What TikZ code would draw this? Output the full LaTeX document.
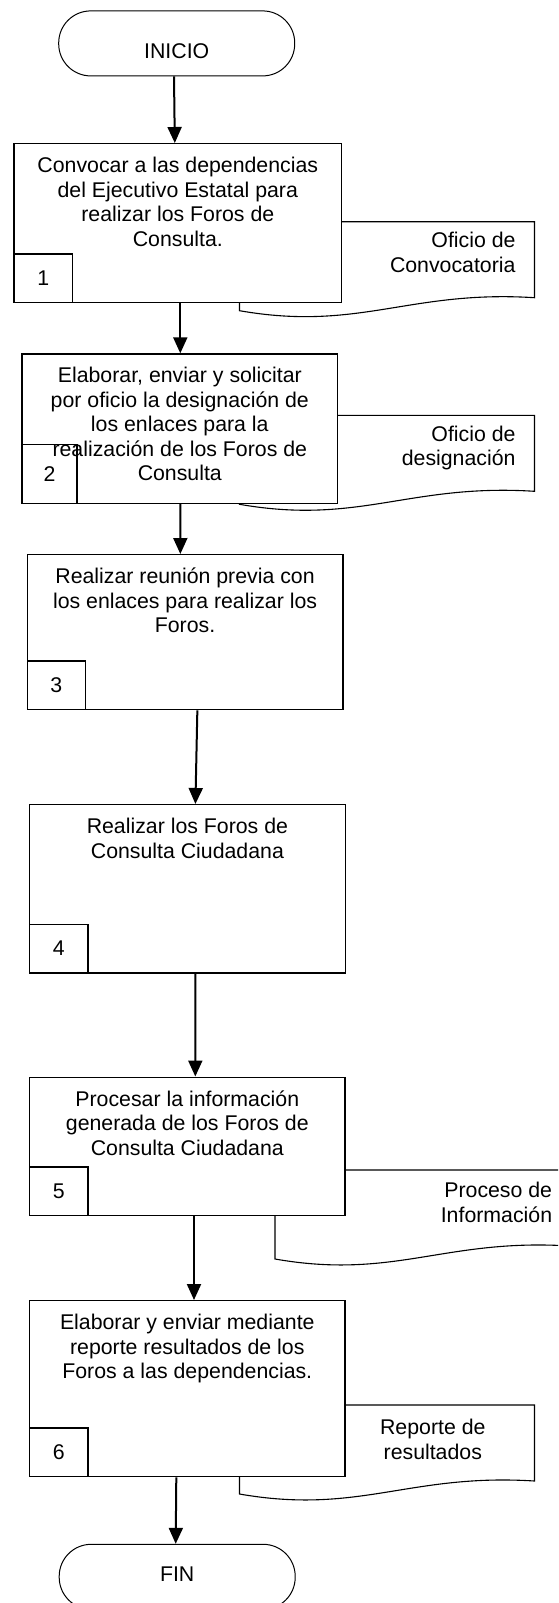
\documentclass[tikz,border=0pt]{standalone}
\usepackage{fontspec}
\setmainfont{Liberation Sans}
\usetikzlibrary{arrows.meta}

\begin{document}
\begin{tikzpicture}[x=1pt, y=-1pt,
    every node/.style={font=\fontsize{21.3}{24.5}\selectfont},
    paso/.style={draw, line width=1.3pt, fill=white, inner sep=0pt, anchor=north west},
    num/.style={draw, line width=1.3pt, inner sep=0pt, minimum width=58.3pt, minimum height=48.7pt, anchor=south west},
    term/.style={draw, line width=1pt, rounded corners=32pt, minimum width=236pt, minimum height=65pt, inner sep=0pt, text depth=0pt},
    texto/.style={inner sep=0pt, align=center, anchor=north, execute at begin node={\rule{0pt}{17pt}}},
    doc/.style={draw, line width=1.1pt, fill=white},
    flecha/.style={line width=2pt, -{Triangle[length=16pt, width=14pt]}}]

    \clip (0,0) rectangle (558,1603);

    % Documentos (quedan detras de las actividades)
    \foreach \dx/\dy in {239.5/221.7, 239.5/415.3, 275/1170, 239.5/1405} {
        \draw[doc] (\dx,\dy) -- ({\dx+295},\dy) -- ({\dx+295},{\dy+76})
            .. controls ({\dx+170},{\dy+68}) and ({\dx+120},{\dy+110}) .. (\dx,{\dy+89}) -- cycle;
    }

    % Inicio y fin
    \node[term, text height=30pt] (ini) at (176.7,43.4) {INICIO};
    \node[term, text height=9.8pt] (fin) at (177.2,1576.8) {FIN};

    % Actividades
    \node[paso, minimum width=327.7pt, minimum height=158.5pt] (b1) at (13.3,143) {};
    \node[paso, minimum width=315.7pt, minimum height=149.2pt] (b2) at (21.3,353.3) {};
    \node[paso, minimum width=315.8pt, minimum height=155pt] (b3) at (26.5,554) {};
    \node[paso, minimum width=315.5pt, minimum height=168.3pt] (b4) at (29,804) {};
    \node[paso, minimum width=315.3pt, minimum height=138.5pt] (b5) at (29,1076.5) {};
    \node[paso, minimum width=315.3pt, minimum height=176pt] (b6) at (29,1300) {};

    % Numero de cada actividad
    \node[num, minimum width=58.5pt, minimum height=48.2pt] (n1) at (b1.south west) {1};
    \node[num, minimum width=55pt, minimum height=59pt] (n2) at (b2.south west) {2};
    \node[num] (n3) at (b3.south west) {3};
    \node[num] (n4) at (b4.south west) {4};
    \node[num] (n5) at (b5.south west) {5};
    \node[num] (n6) at (b6.south west) {6};

    % Textos de las actividades
    \node[texto] (t1) at ([yshift=-14pt]b1.north) {Convocar a las dependencias\\del Ejecutivo Estatal para\\realizar los Foros de\\Consulta.};
    \node[texto] (t2) at ([yshift=-14pt]b2.north) {Elaborar, enviar y solicitar\\por oficio la designación de\\los enlaces para la\\realización de los Foros de\\Consulta};
    \node[texto] (t3) at ([yshift=-14pt]b3.north) {Realizar reunión previa con\\los enlaces para realizar los\\Foros.};
    \node[texto] (t4) at ([yshift=-14pt]b4.north) {Realizar los Foros de\\Consulta Ciudadana};
    \node[texto] (t5) at ([yshift=-14pt]b5.north) {Procesar la información\\generada de los Foros de\\Consulta Ciudadana};
    \node[texto] (t6) at ([yshift=-14pt]b6.north) {Elaborar y enviar mediante\\reporte resultados de los\\Foros a las dependencias.};

    % Textos de los documentos
    \node[texto, anchor=north east, align=right] (o1) at (515.7,232.3) {Oficio de\\Convocatoria};
    \node[texto, anchor=north east, align=right] (o2) at (515.7,425.6) {Oficio de\\designación};
    \node[texto, anchor=north east, align=right] (o5) at (552.3,1182.3) {Proceso de\\Información};
    \node[texto] (o6) at (432.8,1419) {Reporte de\\resultados};

    % Flechas
    \draw[flecha] ([xshift=-2.7pt]ini.south) -- ([xshift=-3pt]b1.north);
    \draw[flecha] ([xshift=2.5pt]b1.south) -- ([xshift=0.5pt]b2.north);
    \draw[flecha] ([xshift=0.5pt]b2.south) -- ([xshift=-4.7pt]b3.north);
    \draw[flecha] ([xshift=12.3pt]b3.south) -- ([xshift=8pt]b4.north);
    \draw[flecha] ([xshift=8pt]b4.south) -- ([xshift=8pt]b5.north);
    \draw[flecha] ([xshift=6.7pt]b5.south) -- ([xshift=6.7pt]b6.north);
    \draw[flecha] ([xshift=-11pt]b6.south) -- ([xshift=-1.5pt]fin.north);
\end{tikzpicture}
\end{document}
